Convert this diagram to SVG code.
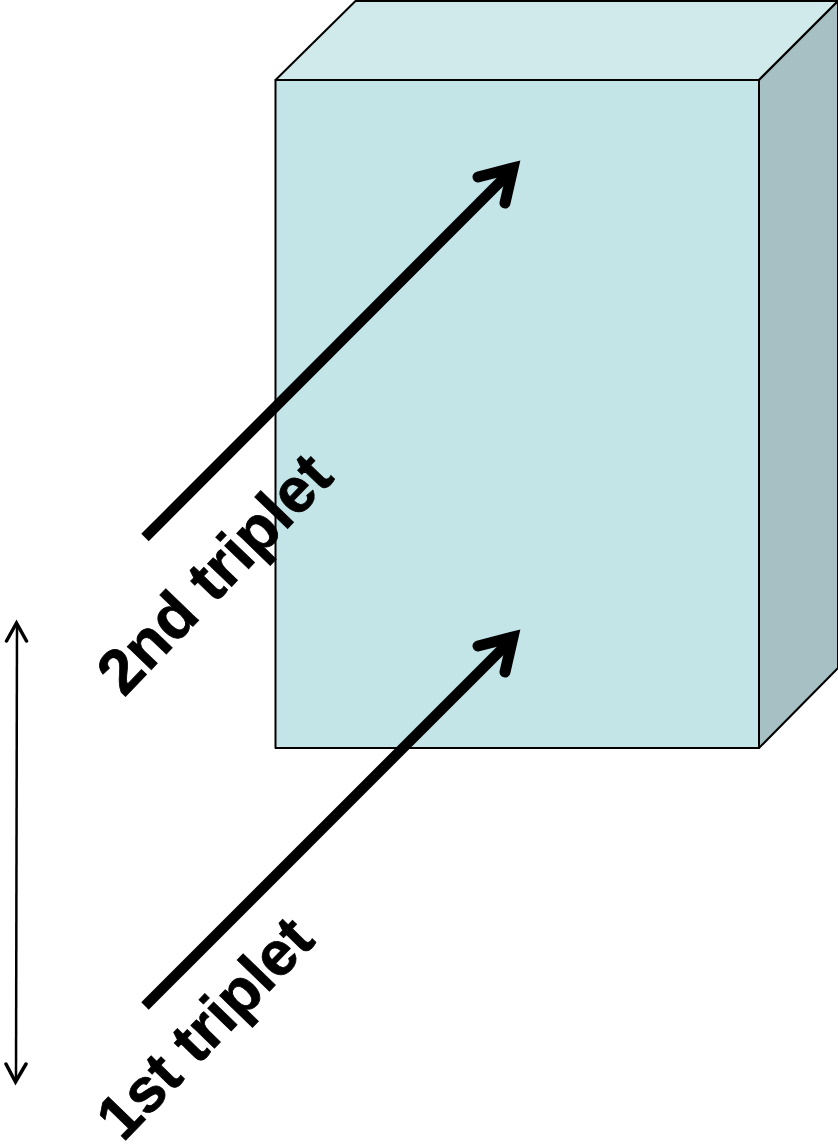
<svg xmlns="http://www.w3.org/2000/svg" width="838" height="1144" viewBox="0 0 838 1144">
<style>
.e{stroke:#000;stroke-width:2;stroke-linejoin:round}
.a{fill:none;stroke:#000;stroke-width:10.500}
.h{fill:none;stroke:#000;stroke-width:11;stroke-linecap:round;stroke-linejoin:miter;stroke-miterlimit:10}
.t{stroke:#000;stroke-width:2.500;fill:none}
.th{stroke:#000;stroke-width:3.500;fill:none;stroke-linecap:round;stroke-linejoin:miter}
.l{font-family:"Liberation Sans",Arial,sans-serif;font-weight:700;font-size:63px;fill:#000;stroke:#000;stroke-width:.8;text-rendering:geometricPrecision}
</style>
<rect width="838" height="1144" fill="#fff"/>
<g id="box">
<path class="e" fill="#d0e9eb" d="M275.500 80L355.500 1H838L759 80Z"/>
<path class="e" fill="#a6c0c4" d="M759 80L838 1V668L759 748Z"/>
<rect class="e" x="275.500" y="80" width="483.500" height="668" fill="#c4e5e8"/>
</g>
<g id="connectors">
<path class="a" d="M145 537.500L512 170"/>
<path class="h" d="M478 177L513 168L505 203"/>
<path class="a" d="M145 1006L512 639"/>
<path class="h" d="M478 646L513 637L505 672"/>
<path class="t" d="M17 624L16 1081"/>
<path class="th" d="M6.500 641L16.500 623L26.500 641M6 1064L15.500 1082L26 1064"/>
</g>
<g id="label-2nd"><text class="l" transform="translate(124 698) rotate(-46)">2nd triplet</text></g>
<g id="label-1st"><text class="l" style="font-size:62px" transform="translate(123 1143) rotate(-46)">1st triplet</text></g>
</svg>
